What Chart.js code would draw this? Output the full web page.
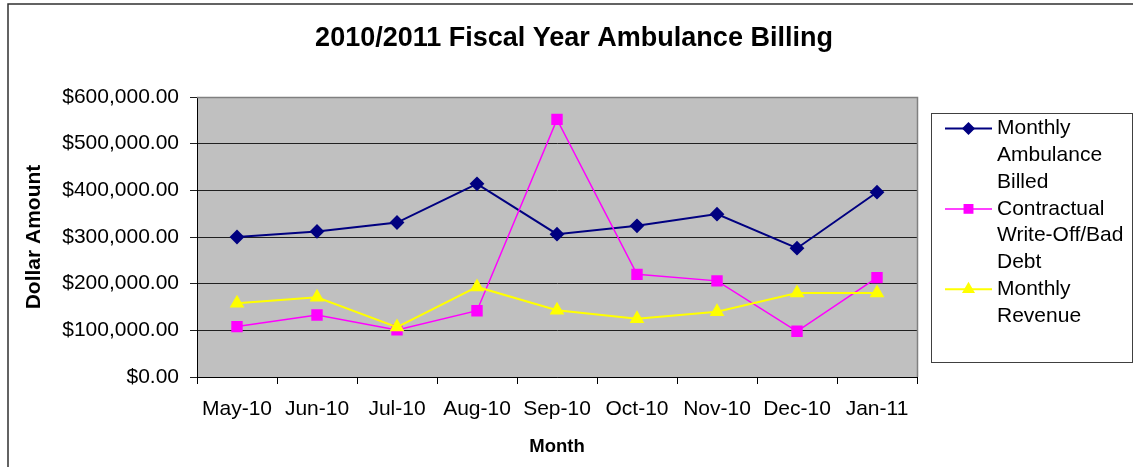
<!DOCTYPE html>
<html>
<head>
<meta charset="utf-8">
<title>2010/2011 Fiscal Year Ambulance Billing</title>
<script src="https://cdn.jsdelivr.net/npm/chart.js@4.4.1/dist/chart.umd.min.js"></script>
<style>
  html, body { margin: 0; padding: 0; background: #fff; }
  #wrap { position: relative; width: 1133px; height: 467px; }
</style>
</head>
<body>
<div id="wrap"><canvas id="billingChart"></canvas></div>
<script>
// 月ごとの請求データ
const months = ['May-10', 'Jun-10', 'Jul-10', 'Aug-10', 'Sep-10', 'Oct-10', 'Nov-10', 'Dec-10', 'Jan-11'];
const ambulanceBilled = [300000, 312000, 331000, 414000, 306000, 324000, 349000, 276000, 396000];
const writeOffBadDebt = [108000, 133000, 101000, 142000, 552000, 220000, 206000, 98000, 213000];
const monthlyRevenue = [158000, 171000, 107000, 193000, 143000, 125000, 140000, 180000, 180000];
const yTicks = [0, 100000, 200000, 300000, 400000, 500000, 600000];

// 凡例は折り返して表示する
const legendLines = [
  ['Monthly', 'Ambulance', 'Billed'],
  ['Contractual', 'Write-Off/Bad', 'Debt'],
  ['Monthly', 'Revenue']
];

const FONT = "'Liberation Sans', Arial, sans-serif";

function money(v) {
  return '$' + v.toLocaleString('en-US', { minimumFractionDigits: 2, maximumFractionDigits: 2 });
}

// 凡例の描画（右側にボックスを確保して描く）
function drawLegend(chart, box) {
  const ctx = chart.ctx;
  const area = chart.chartArea;
  const x0 = box.left + 14.5;
  const x1 = box.right - 0.5;
  const h = 249;
  const y0 = Math.round((area.top + area.bottom) / 2 - h / 2) + 0.5;
  const lineH = 26.8;

  ctx.save();
  ctx.fillStyle = '#fff';
  ctx.fillRect(x0, y0, x1 - x0, h);
  ctx.strokeStyle = '#404040';
  ctx.lineWidth = 1;
  ctx.strokeRect(x0, y0, x1 - x0, h);

  ctx.font = '21px ' + FONT;
  ctx.textBaseline = 'middle';
  ctx.textAlign = 'left';

  let y = y0 + 15;
  chart.data.datasets.forEach(function (ds, i) {
    // 線とマーカー
    ctx.strokeStyle = ds.borderColor;
    ctx.lineWidth = ds.borderWidth;
    ctx.beginPath();
    ctx.moveTo(box.left + 28, y);
    ctx.lineTo(box.left + 75, y);
    ctx.stroke();
    ctx.fillStyle = ds.pointBackgroundColor;
    ctx.strokeStyle = ds.pointBorderColor;
    Chart.helpers.drawPoint(ctx, {
      pointStyle: ds.pointStyle,
      radius: ds.pointRadius * 0.85,
      rotation: 0,
      borderWidth: 1
    }, box.left + 51.5, y);

    ctx.fillStyle = '#000';
    legendLines[i].forEach(function (line) {
      ctx.fillText(line, box.left + 80, y);
      y += lineH;
    });
  });
  ctx.restore();
}

const sideLegend = {
  id: 'sideLegend',
  beforeInit(chart) {
    const box = {
      position: 'right',
      fullSize: false,
      weight: 0,
      options: {},
      top: 0, left: 0, right: 0, bottom: 0, width: 0, height: 0,
      isHorizontal() { return false; },
      update(maxWidth, maxHeight) {
        this.width = 216;
        this.height = maxHeight;
      },
      draw() { drawLegend(chart, this); }
    };
    Chart.layouts.addBox(chart, box);
  }
};

// プロットエリアの背景と枠、外枠
const plotFrame = {
  id: 'plotFrame',
  beforeDraw(chart) {
    const { ctx, chartArea: a } = chart;
    ctx.save();
    ctx.fillStyle = '#C0C0C0';
    ctx.fillRect(a.left, a.top, a.right - a.left, a.bottom - a.top);
    ctx.restore();
  },
  beforeDatasetsDraw(chart) {
    const { ctx, chartArea: a } = chart;
    ctx.save();
    ctx.strokeStyle = '#808080';
    ctx.lineWidth = 1.5;
    ctx.beginPath();
    ctx.moveTo(a.left, Math.round(a.top) + 0.5);
    ctx.lineTo(Math.round(a.right) + 0.5, Math.round(a.top) + 0.5);
    ctx.lineTo(Math.round(a.right) + 0.5, a.bottom);
    ctx.stroke();
    ctx.restore();
  },
  afterDraw(chart) {
    const ctx = chart.ctx;
    ctx.save();
    ctx.strokeStyle = '#303030';
    ctx.lineWidth = 1.5;
    ctx.beginPath();
    ctx.moveTo(8, chart.height);
    ctx.lineTo(8, 4);
    ctx.lineTo(chart.width, 4);
    ctx.stroke();
    ctx.restore();
  }
};

const ctx = document.getElementById('billingChart').getContext('2d');
new Chart(ctx, {
  type: 'line',
  data: {
    labels: months,
    datasets: [
      {
        label: legendLines[0].join(' '),
        data: ambulanceBilled,
        borderColor: '#000080',
        borderWidth: 2,
        pointStyle: 'rectRot',
        pointRadius: 6,
        pointBackgroundColor: '#000080',
        pointBorderColor: '#000080',
        order: 2
      },
      {
        label: legendLines[1].join(' '),
        data: writeOffBadDebt,
        borderColor: '#FF00FF',
        borderWidth: 1.5,
        pointStyle: 'rect',
        pointRadius: 7,
        pointBackgroundColor: '#FF00FF',
        pointBorderColor: '#FF00FF',
        order: 1
      },
      {
        label: legendLines[2].join(' '),
        data: monthlyRevenue,
        borderColor: '#FFFF00',
        borderWidth: 2,
        pointStyle: 'triangle',
        pointRadius: 6.5,
        pointBackgroundColor: '#FFFF00',
        pointBorderColor: '#FFFF00',
        order: 0
      }
    ]
  },
  options: {
    responsive: true,
    maintainAspectRatio: false,
    animation: false,
    layout: {
      padding: { left: 15, right: 0, top: 0, bottom: 0 }
    },
    elements: {
      line: { tension: 0 },
      point: { borderWidth: 1, hoverRadius: 6 }
    },
    plugins: {
      legend: { display: false },
      tooltip: { enabled: false },
      title: {
        display: true,
        text: '2010/2011 Fiscal Year Ambulance Billing',
        color: '#000',
        font: { family: FONT, size: 27, weight: 'bold' },
        padding: { top: 22, bottom: 42.6 },
        fullSize: true
      }
    },
    scales: {
      x: {
        offset: true,
        grid: {
          offset: true,
          drawOnChartArea: false,
          drawTicks: true,
          tickLength: 7,
          color: '#000'
        },
        border: { display: true, color: '#000', width: 1 },
        ticks: {
          color: '#000',
          padding: 13,
          maxRotation: 0,
          autoSkip: false,
          font: { family: FONT, size: 21 }
        },
        title: {
          display: true,
          text: 'Month',
          color: '#000',
          font: { family: FONT, size: 18.5, weight: 'bold' },
          padding: { top: 0, bottom: 9 }
        },
        afterFit(scale) { scale.height = 90; }
      },
      y: {
        min: 0,
        max: 600000,
        afterBuildTicks(scale) {
          scale.ticks = yTicks.map(v => ({ value: v }));
        },
        grid: {
          color: '#202020',
          lineWidth: 1,
          drawTicks: true,
          tickLength: 7
        },
        border: { display: true, color: '#000', width: 1 },
        ticks: {
          color: '#000',
          padding: 11,
          font: { family: FONT, size: 21 },
          callback: v => money(v)
        },
        title: {
          display: true,
          text: 'Dollar Amount',
          color: '#000',
          font: { family: FONT, size: 21, weight: 'bold' },
          padding: { top: 7, bottom: 0 }
        },
        afterFit(scale) { scale.width = 182; }
      }
    }
  },
  plugins: [sideLegend, plotFrame]
});
</script>
</body>
</html>
